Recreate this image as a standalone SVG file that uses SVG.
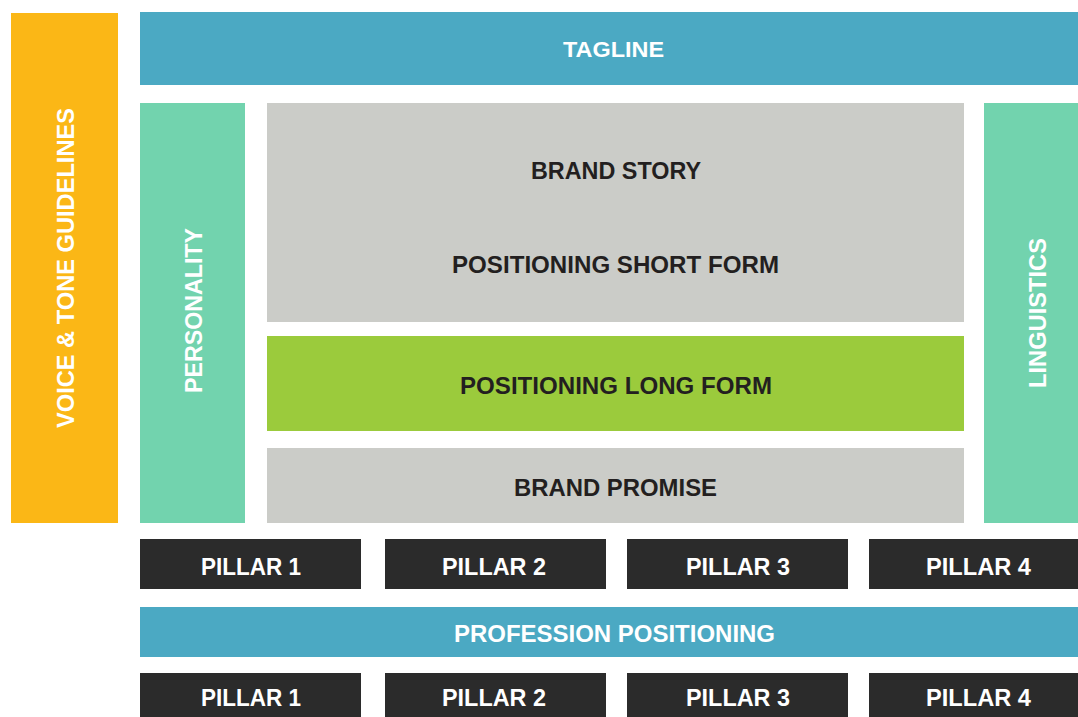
<svg xmlns="http://www.w3.org/2000/svg" width="1078" height="717" viewBox="0 0 1078 717">
<style>
.t{font-family:"Liberation Sans",Arial,sans-serif;font-weight:bold;font-size:24px;text-anchor:middle}
.w{fill:#ffffff}
.d{fill:#231f20}
.teal{fill:#4ba9c3}
.mint{fill:#72d3ae}
.gray{fill:#cbccc8}
.dark{fill:#2b2b2b}
</style>
<rect width="1078" height="717" fill="#ffffff"/>
<g id="voice-tone">
<rect x="11" y="13" width="107" height="510" fill="#fbb716"/>
<text class="t w" transform="translate(74,268) rotate(-90)" textLength="320" lengthAdjust="spacingAndGlyphs">VOICE &amp; TONE GUIDELINES</text>
</g>
<g id="tagline">
<rect class="teal" x="140" y="12" width="938" height="73"/>
<text class="t w" x="613.5" y="57" style="font-size:22px" textLength="101" lengthAdjust="spacingAndGlyphs">TAGLINE</text>
</g>
<g id="personality">
<rect class="mint" x="140" y="103" width="105" height="420"/>
<text class="t w" transform="translate(202,310.5) rotate(-90)" textLength="165" lengthAdjust="spacingAndGlyphs">PERSONALITY</text>
</g>
<g id="brand-story">
<rect class="gray" x="267" y="103" width="697" height="219"/>
<text class="t d" x="616" y="179" textLength="170" lengthAdjust="spacingAndGlyphs">BRAND STORY</text>
<text class="t d" x="615.5" y="273" textLength="327" lengthAdjust="spacingAndGlyphs">POSITIONING SHORT FORM</text>
</g>
<g id="long-form">
<rect x="267" y="336" width="697" height="95" fill="#9bcb3c"/>
<text class="t d" x="616" y="393.5" textLength="312" lengthAdjust="spacingAndGlyphs">POSITIONING LONG FORM</text>
</g>
<g id="brand-promise">
<rect class="gray" x="267" y="448" width="697" height="75"/>
<text class="t d" x="615.5" y="496" textLength="203" lengthAdjust="spacingAndGlyphs">BRAND PROMISE</text>
</g>
<g id="linguistics">
<rect class="mint" x="984" y="103" width="94" height="420"/>
<text class="t w" transform="translate(1046,313) rotate(-90)" textLength="150" lengthAdjust="spacingAndGlyphs">LINGUISTICS</text>
</g>
<g id="pillars-top">
<rect class="dark" x="140" y="539" width="221" height="50"/>
<text class="t w" x="251" y="575" textLength="100" lengthAdjust="spacingAndGlyphs">PILLAR 1</text>
<rect class="dark" x="385" y="539" width="221" height="50"/>
<text class="t w" x="494" y="575" textLength="104" lengthAdjust="spacingAndGlyphs">PILLAR 2</text>
<rect class="dark" x="627" y="539" width="221" height="50"/>
<text class="t w" x="738" y="575" textLength="104" lengthAdjust="spacingAndGlyphs">PILLAR 3</text>
<rect class="dark" x="869" y="539" width="209" height="50"/>
<text class="t w" x="978.5" y="575" textLength="105" lengthAdjust="spacingAndGlyphs">PILLAR 4</text>
</g>
<g id="profession-positioning">
<rect class="teal" x="140" y="607" width="938" height="50"/>
<text class="t w" x="614.5" y="641.5" textLength="321" lengthAdjust="spacingAndGlyphs">PROFESSION POSITIONING</text>
</g>
<g id="pillars-bottom">
<rect class="dark" x="140" y="673" width="221" height="44"/>
<text class="t w" x="251" y="706" textLength="100" lengthAdjust="spacingAndGlyphs">PILLAR 1</text>
<rect class="dark" x="385" y="673" width="221" height="44"/>
<text class="t w" x="494" y="706" textLength="104" lengthAdjust="spacingAndGlyphs">PILLAR 2</text>
<rect class="dark" x="627" y="673" width="221" height="44"/>
<text class="t w" x="738" y="706" textLength="104" lengthAdjust="spacingAndGlyphs">PILLAR 3</text>
<rect class="dark" x="869" y="673" width="209" height="44"/>
<text class="t w" x="978.5" y="706" textLength="105" lengthAdjust="spacingAndGlyphs">PILLAR 4</text>
</g>
<g id="connectors"></g>
</svg>
